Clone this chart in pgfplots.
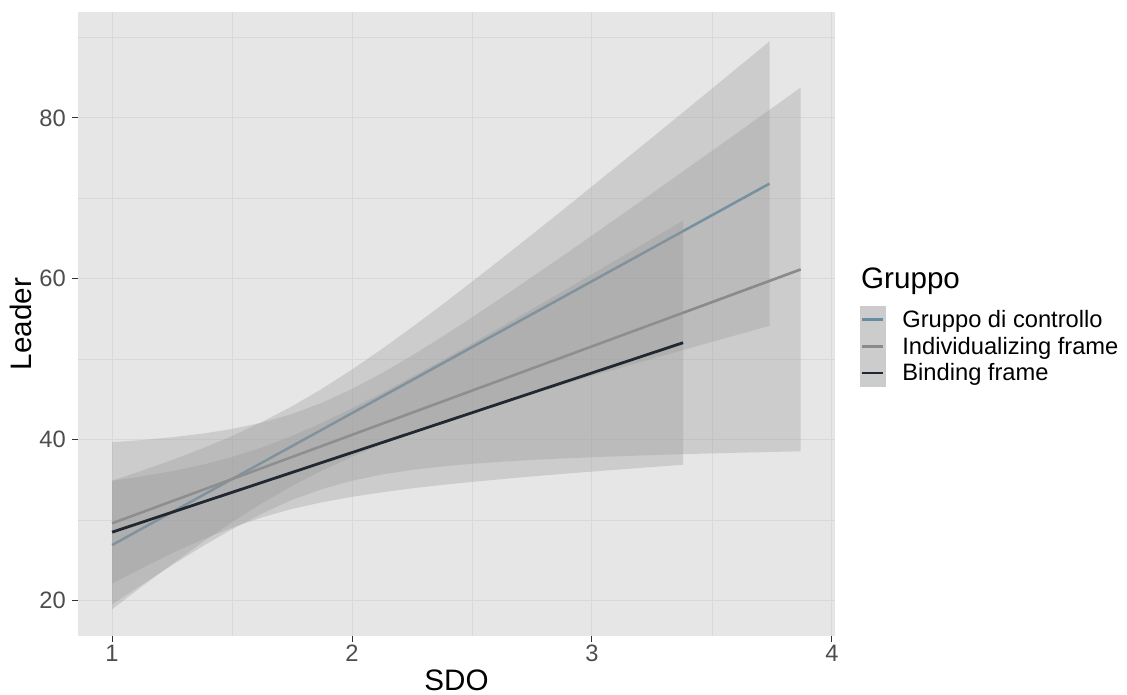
\documentclass[border=0pt]{standalone}
\usepackage{fontspec}
\setmainfont{Liberation Sans}
\usepackage{pgfplots}
\pgfplotsset{compat=1.18}
\definecolor{panelbg}{RGB}{230,230,230}
\definecolor{gridc}{RGB}{216,216,216}
\definecolor{ribbon}{RGB}{153,153,153}
\definecolor{keybg}{RGB}{204,204,204}
\definecolor{cblue}{RGB}{100,140,165}
\definecolor{cgray}{RGB}{138,138,138}
\definecolor{cdark}{RGB}{33,40,50}
\definecolor{ticktext}{RGB}{77,77,77}
\definecolor{tickc}{RGB}{51,51,51}
\newcommand\smallf{\fontsize{23.7}{28}\selectfont}
\newcommand\bigf{\fontsize{29.6}{35}\selectfont}
\begin{document}
\begin{tikzpicture}
\path[use as bounding box] (0,0) rectangle (1127pt,695pt);
\begin{axis}[
  at={(78pt,59pt)}, anchor=south west,
  width=757pt, height=624pt, scale only axis,
  xmin=0.858, xmax=4.013, ymin=15.59, ymax=93.18,
  xtick={1,2,3,4}, ytick={20,40,60,80},
  minor xtick={1.5,2.5,3.5}, minor ytick={30,50,70,90},
  grid=both,
  major grid style={gridc, line width=1pt},
  minor grid style={gridc, line width=0.8pt},
  axis background/.style={fill=panelbg},
  axis line style={draw=none},
  tick align=outside,
  major tick length=6pt, minor tick length=0pt,
  tick style={tickc, line width=1pt},
  xtick pos=left, ytick pos=left,
  ticklabel style={font=\smallf, text=ticktext, inner sep=0pt},
  /pgf/number format/assume math mode=true,
  xticklabel style={anchor=north, yshift=-3pt},
  yticklabel style={anchor=east, xshift=-6pt},
  xlabel={SDO}, ylabel={Leader},
  every axis x label/.style={at={(axis description cs:0.5,-0.0881)}, anchor=base, font=\bigf},
  every axis y label/.style={at={(axis description cs:-0.0608,0.5)}, rotate=90, anchor=base, font=\bigf},
  legend style={at={(axis description cs:1.0330,0.5288)}, anchor=north west, draw=none, fill=none,
    inner sep=0pt, outer sep=0pt, row sep=0pt, column sep=17pt, font=\smallf, nodes={inner sep=0pt}},
  legend cell align=left,
]
\addlegendimage{legend image code/.code={\fill[keybg] (0pt,-13.2pt) rectangle (25pt,13.2pt); \draw[cblue, line width=2.8pt] (2pt,0pt) -- (23pt,0pt);}}
\addlegendentry{Gruppo di controllo}
\addlegendimage{legend image code/.code={\fill[keybg] (0pt,-13.2pt) rectangle (25pt,13.2pt); \draw[cgray, line width=2.8pt] (2pt,0pt) -- (23pt,0pt);}}
\addlegendentry{Individualizing frame}
\addlegendimage{legend image code/.code={\fill[keybg] (0pt,-13.2pt) rectangle (25pt,13.2pt); \draw[cdark, line width=2.8pt] (2pt,0pt) -- (23pt,0pt);}}
\addlegendentry{Binding frame}

% Gruppo di controllo ribbon
\addplot[fill=ribbon, fill opacity=0.33, draw=none, forget plot] coordinates {
(1,34.90) (1.125,36.15) (1.25,37.47) (1.375,38.89) (1.5,40.45) (1.625,42.20) (1.75,44.15) (1.875,46.33) (2,48.72) (2.125,51.28) (2.25,53.98) (2.375,56.77) (2.5,59.63) (2.625,62.55) (2.75,65.50) (2.875,68.48) (3,71.49) (3.25,77.54) (3.5,83.64) (3.74,89.53)
(3.74,54.15) (3.5,52.16) (3.25,50.06) (3,47.91) (2.875,46.82) (2.75,45.70) (2.625,44.55) (2.5,43.37) (2.375,42.13) (2.25,40.82) (2.125,39.42) (2,37.88) (1.875,36.17) (1.75,34.25) (1.625,32.11) (1.5,29.75) (1.375,27.21) (1.25,24.53) (1.125,21.76) (1,18.90)
} -- cycle;
\addplot[cblue, line width=2.5pt, forget plot] coordinates {(1,26.9) (3.74,71.84)};

% Individualizing frame ribbon
\addplot[fill=ribbon, fill opacity=0.33, draw=none, forget plot] coordinates {
(1,39.69) (1.125,39.96) (1.25,40.30) (1.375,40.74) (1.5,41.33) (1.625,42.12) (1.75,43.19) (1.875,44.59) (2,46.30) (2.125,48.28) (2.25,50.46) (2.375,52.78) (2.5,55.20) (2.625,57.69) (2.75,60.22) (2.875,62.79) (3,65.38) (3.25,70.62) (3.5,75.90) (3.87,83.78)
(3.87,38.56) (3.5,38.30) (3.25,38.08) (3,37.82) (2.875,37.66) (2.75,37.48) (2.625,37.26) (2.5,37.00) (2.375,36.67) (2.25,36.24) (2.125,35.67) (2,34.90) (1.875,33.86) (1.75,32.51) (1.625,30.82) (1.5,28.87) (1.375,26.71) (1.25,24.40) (1.125,21.99) (1,19.51)
} -- cycle;
\addplot[cgray, line width=2.6pt, forget plot] coordinates {(1,29.6) (3.87,61.17)};

% Binding frame ribbon
\addplot[fill=ribbon, fill opacity=0.33, draw=none, forget plot] coordinates {
(1,34.90) (1.125,35.44) (1.25,36.08) (1.375,36.86) (1.5,37.84) (1.625,39.04) (1.75,40.47) (1.875,42.10) (2,43.90) (2.125,45.81) (2.25,47.81) (2.375,49.86) (2.5,51.95) (2.625,54.08) (2.75,56.23) (2.875,58.39) (3,60.57) (3.25,64.96) (3.38,67.24)
(3.38,36.88) (3.25,36.60) (3,36.03) (2.875,35.74) (2.75,35.43) (2.625,35.10) (2.5,34.75) (2.375,34.37) (2.25,33.95) (2.125,33.46) (2,32.90) (1.875,32.22) (1.75,31.39) (1.625,30.34) (1.5,29.06) (1.375,27.56) (1.25,25.88) (1.125,24.04) (1,22.10)
} -- cycle;
\addplot[cdark, line width=2.8pt, forget plot] coordinates {(1,28.5) (3.38,52.06)};
\end{axis}
\node[anchor=base west, font=\bigf, inner sep=0pt] at (861pt,406pt) {Gruppo};
\end{tikzpicture}
\end{document}
